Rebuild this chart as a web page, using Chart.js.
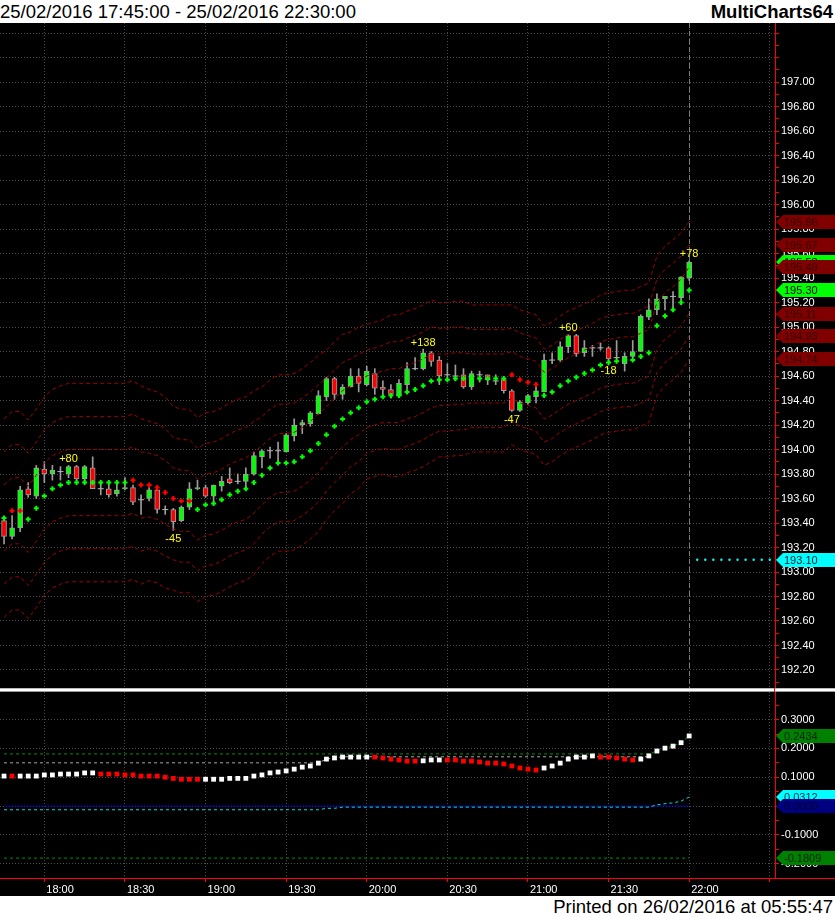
<!DOCTYPE html>
<html>
<head>
<meta charset="utf-8">
<script src="https://cdn.jsdelivr.net/npm/chart.js@4.4.1/dist/chart.umd.min.js"></script>
<style>
html, body { margin: 0; padding: 0; background: #fff; }
body { width: 835px; height: 917px; overflow: hidden; font-family: "Liberation Sans", Arial, sans-serif; }
#hdr { position: relative; height: 23px; line-height: 23px; font-size: 18.5px; background: #fff; color: #000; white-space: nowrap; }
#hdr .l { position: absolute; left: 0; top: 0; }
#hdr .r { position: absolute; right: 2px; top: 0; font-weight: bold; }
#sep { position: relative; height: 4px; background: linear-gradient(#bcbcbc 0 1px, #ffffff 1px 3px, #9a9a9a 3px 4px); }
#sep i { position: absolute; left: 774px; top: 0; width: 1px; height: 4px; background: #ff0000; }
#ftr { height: 21px; line-height: 21px; font-size: 18.5px; background: #fff; color: #000; text-align: right; padding-right: 2px; white-space: nowrap; }
canvas { display: block; background: #000; }
</style>
</head>
<body>
<div id="hdr"><span class="l">25/02/2016 17:45:00 - 25/02/2016 22:30:00</span><span class="r">MultiCharts64</span></div>
<canvas id="price" width="835" height="665"></canvas>
<div id="sep"><i></i></div>
<canvas id="osc" width="835" height="204"></canvas>
<div id="ftr">Printed on 26/02/2016 at 05:55:47</div>
<script>
// time axis: bar index -> label (3 minute bars, bar 0 = 17:45)
const timeBars = [5, 15, 25, 35, 45, 55, 65, 75, 85, 95];
const timeLabels = ['18:00', '18:30', '19:00', '19:30', '20:00', '20:30', '21:00', '21:30', '22:00', ''];
const priceLabels = ['197.00', '196.80', '196.60', '196.40', '196.20', '196.00', '195.80', '195.60', '195.40', '195.20',
  '195.00', '194.80', '194.60', '194.40', '194.20', '194.00', '193.80', '193.60', '193.40', '193.20',
  '193.00', '192.80', '192.60', '192.40', '192.20'];
const oscLabels = ['0.3000', '0.2000', '0.1000', '0.0000', '-0.1000', '-0.2000'];

const opens = [193.42,193.29,193.36,193.68,193.62,193.84,193.80,193.82,193.80,193.86,
  193.76,193.85,193.68,193.68,193.64,193.68,193.69,193.59,193.60,193.67,
  193.51,193.51,193.42,193.53,193.68,193.69,193.62,193.70,193.76,193.74,
  193.74,193.80,193.94,193.99,193.99,193.98,194.11,194.20,194.21,194.29,
  194.43,194.58,194.45,194.51,194.60,194.53,194.62,194.51,194.49,194.44,
  194.53,194.66,194.66,194.79,194.73,194.61,194.60,194.61,194.51,194.61,
  194.61,194.56,194.57,194.48,194.32,194.38,194.43,194.47,194.73,194.73,
  194.84,194.93,194.79,194.83,194.83,194.83,194.75,194.70,194.76,194.80,
  195.08,195.14,195.23,195.25,195.24,195.40];
const highs = [193.45,193.46,193.70,193.73,193.87,193.90,193.87,193.86,193.87,193.87,
  193.87,193.94,193.73,193.71,193.73,193.77,193.71,193.63,193.69,193.68,
  193.54,193.52,193.54,193.73,193.75,193.71,193.71,193.78,193.85,193.80,
  193.85,193.98,194.00,194.02,194.06,194.13,194.25,194.24,194.31,194.48,
  194.59,194.59,194.53,194.66,194.66,194.68,194.66,194.56,194.53,194.57,
  194.71,194.75,194.82,194.80,194.76,194.70,194.69,194.66,194.64,194.64,
  194.61,194.61,194.58,194.49,194.40,194.45,194.51,194.78,194.79,194.88,
  194.94,194.94,194.89,194.85,194.87,194.84,194.89,194.79,194.89,195.10,
  195.23,195.27,195.25,195.29,195.41,195.54];
const lows = [193.23,193.27,193.33,193.61,193.60,193.73,193.75,193.75,193.77,193.74,
  193.73,193.68,193.63,193.61,193.62,193.67,193.55,193.47,193.58,193.48,
  193.47,193.34,193.41,193.51,193.67,193.61,193.56,193.66,193.72,193.72,
  193.68,193.79,193.85,193.93,193.89,193.98,194.07,194.13,194.19,194.29,
  194.40,194.41,194.41,194.51,194.47,194.52,194.45,194.43,194.42,194.43,
  194.49,194.65,194.65,194.68,194.53,194.57,194.56,194.50,194.49,194.55,
  194.53,194.53,194.46,194.31,194.31,194.37,194.38,194.47,194.70,194.72,
  194.79,194.76,194.76,194.76,194.81,194.71,194.72,194.64,194.75,194.80,
  195.06,195.10,195.14,195.14,195.22,195.38];
const closes = [193.29,193.36,193.67,193.63,193.85,193.80,193.83,193.82,193.86,193.76,
  193.86,193.68,193.68,193.63,193.67,193.69,193.57,193.59,193.67,193.51,
  193.51,193.41,193.53,193.68,193.69,193.62,193.71,193.74,193.73,193.74,
  193.80,193.95,193.99,193.99,193.99,194.12,194.20,194.22,194.30,194.44,
  194.58,194.45,194.51,194.60,194.54,194.64,194.50,194.49,194.45,194.54,
  194.66,194.66,194.79,194.72,194.60,194.61,194.60,194.51,194.62,194.61,
  194.57,194.56,194.48,194.32,194.39,194.44,194.48,194.73,194.73,194.84,
  194.93,194.78,194.83,194.83,194.83,194.74,194.75,194.76,194.80,195.09,
  195.14,195.23,195.25,195.25,195.41,195.53];

// trailing dots (centre of the bands) and their direction, 1 = green, -1 = red
const stopLine = [193.44,193.50,193.50,193.43,193.52,193.62,193.68,193.71,193.73,193.73,
  193.73,193.73,193.73,193.73,193.73,193.73,193.75,193.71,193.71,193.69,
  193.65,193.60,193.58,193.58,193.51,193.55,193.56,193.59,193.63,193.66,
  193.68,193.73,193.79,193.85,193.89,193.89,193.90,193.94,193.99,194.05,
  194.12,194.19,194.25,194.30,194.34,194.39,194.41,194.43,194.44,194.44,
  194.47,194.49,194.52,194.56,194.57,194.57,194.58,194.58,194.58,194.58,
  194.58,194.58,194.58,194.61,194.57,194.55,194.53,194.44,194.47,194.52,
  194.56,194.59,194.62,194.65,194.69,194.71,194.72,194.73,194.73,194.76,
  194.79,195.01,195.09,195.14,195.20,195.30];
const stopDir = [1,-1,-1,1,1,1,1,1,1,1, 1,1,1,1,1,1,-1,-1,-1,-1, -1,-1,-1,-1,1,1,1,1,1,1,
  1,1,1,1,1,1,1,1,1,1, 1,1,1,1,1,1,1,1,1,1, 1,1,1,1,1,1,1,1,1,1,
  1,1,1,-1,-1,-1,-1,1,1,1, 1,1,1,1,1,1,1,1,1,1, 1,1,1,1,1,1];

const band3Up = [194.25,194.31,194.31,194.24,194.33,194.43,194.49,194.52,194.54,194.54,
  194.54,194.54,194.54,194.54,194.54,194.54,194.56,194.52,194.49,194.47,
  194.43,194.35,194.33,194.33,194.26,194.30,194.31,194.34,194.38,194.41,
  194.43,194.48,194.51,194.57,194.61,194.61,194.62,194.66,194.71,194.77,
  194.81,194.88,194.94,194.96,195.00,195.02,195.04,195.06,195.10,195.10,
  195.13,195.15,195.18,195.22,195.20,195.20,195.21,195.21,195.18,195.18,
  195.18,195.18,195.18,195.18,195.14,195.12,195.10,195.01,195.04,195.09,
  195.13,195.16,195.19,195.22,195.26,195.28,195.29,195.30,195.30,195.33,
  195.36,195.58,195.66,195.71,195.77,195.86];
const band2Up = [193.98,194.04,194.04,193.97,194.06,194.16,194.22,194.25,194.27,194.27,
  194.27,194.27,194.27,194.27,194.27,194.27,194.29,194.25,194.23,194.21,
  194.17,194.10,194.08,194.08,194.01,194.05,194.06,194.09,194.13,194.16,
  194.18,194.23,194.27,194.33,194.37,194.37,194.38,194.42,194.47,194.53,
  194.58,194.65,194.71,194.74,194.78,194.81,194.83,194.85,194.88,194.88,
  194.91,194.93,194.96,195.00,194.99,194.99,195.00,195.00,194.98,194.98,
  194.98,194.98,194.98,194.99,194.95,194.93,194.91,194.82,194.85,194.90,
  194.94,194.97,195.00,195.03,195.07,195.09,195.10,195.11,195.11,195.14,
  195.17,195.39,195.47,195.52,195.58,195.67];
const band1Up = [193.71,193.77,193.77,193.70,193.79,193.89,193.95,193.98,194.00,194.00,
  194.00,194.00,194.00,194.00,194.00,194.00,194.02,193.98,193.97,193.95,
  193.91,193.85,193.83,193.83,193.76,193.80,193.81,193.84,193.88,193.91,
  193.93,193.98,194.03,194.09,194.13,194.13,194.14,194.18,194.23,194.29,
  194.35,194.42,194.48,194.52,194.56,194.60,194.62,194.64,194.66,194.66,
  194.69,194.71,194.74,194.78,194.78,194.78,194.79,194.79,194.78,194.78,
  194.78,194.78,194.78,194.80,194.76,194.74,194.72,194.63,194.66,194.71,
  194.75,194.78,194.81,194.84,194.88,194.90,194.91,194.92,194.92,194.95,
  194.98,195.20,195.28,195.33,195.39,195.49];
const band1Dn = [193.17,193.23,193.23,193.16,193.25,193.35,193.41,193.44,193.46,193.46,
  193.46,193.46,193.46,193.46,193.46,193.46,193.48,193.44,193.45,193.43,
  193.39,193.35,193.33,193.33,193.26,193.30,193.31,193.34,193.38,193.41,
  193.43,193.48,193.55,193.61,193.65,193.65,193.66,193.70,193.75,193.81,
  193.89,193.96,194.02,194.08,194.12,194.18,194.20,194.22,194.22,194.22,
  194.25,194.27,194.30,194.34,194.36,194.36,194.37,194.37,194.38,194.38,
  194.38,194.38,194.38,194.42,194.38,194.36,194.34,194.25,194.28,194.33,
  194.37,194.40,194.43,194.46,194.50,194.52,194.53,194.54,194.54,194.57,
  194.60,194.82,194.90,194.95,195.01,195.11];
const band2Dn = [192.90,192.96,192.96,192.89,192.98,193.08,193.14,193.17,193.19,193.19,
  193.19,193.19,193.19,193.19,193.19,193.19,193.21,193.17,193.19,193.17,
  193.13,193.10,193.08,193.08,193.01,193.05,193.06,193.09,193.13,193.16,
  193.18,193.23,193.31,193.37,193.41,193.41,193.42,193.46,193.51,193.57,
  193.66,193.73,193.79,193.86,193.90,193.97,193.99,194.01,194.00,194.00,
  194.03,194.05,194.08,194.12,194.15,194.15,194.16,194.16,194.18,194.18,
  194.18,194.18,194.18,194.23,194.19,194.17,194.15,194.06,194.09,194.14,
  194.18,194.21,194.24,194.27,194.31,194.33,194.34,194.35,194.35,194.38,
  194.41,194.63,194.71,194.76,194.82,194.93];
const band3Dn = [192.63,192.69,192.69,192.62,192.71,192.81,192.87,192.90,192.92,192.92,
  192.92,192.92,192.92,192.92,192.92,192.92,192.94,192.90,192.93,192.91,
  192.87,192.85,192.83,192.83,192.76,192.80,192.81,192.84,192.88,192.91,
  192.93,192.98,193.07,193.13,193.17,193.17,193.18,193.22,193.27,193.33,
  193.43,193.50,193.56,193.64,193.68,193.76,193.78,193.80,193.78,193.78,
  193.81,193.83,193.86,193.90,193.94,193.94,193.95,193.95,193.98,193.98,
  193.98,193.98,193.98,194.04,194.00,193.98,193.96,193.87,193.90,193.95,
  193.99,194.02,194.05,194.08,194.12,194.14,194.15,194.16,194.16,194.19,
  194.22,194.44,194.52,194.57,194.63,194.74];

const swingBars = [8, 21, 52, 63, 70, 75, 85];
const swingTexts = ['+80', '-45', '+138', '-47', '+60', '-18', '+78'];

const projBars = [86, 87, 88, 89, 90, 91, 92, 93, 94, 95];
const projLevel = 193.10;

// lower panel
const osc = [0.104,0.104,0.104,0.104,0.104,0.108,0.108,0.111,0.111,0.111,
  0.115,0.115,0.111,0.111,0.111,0.108,0.108,0.104,0.104,0.104,
  0.100,0.096,0.093,0.093,0.093,0.093,0.093,0.093,0.096,0.096,
  0.096,0.104,0.108,0.115,0.118,0.122,0.128,0.135,0.139,0.149,
  0.163,0.167,0.170,0.170,0.170,0.170,0.170,0.167,0.163,0.160,
  0.156,0.156,0.157,0.160,0.160,0.160,0.160,0.156,0.156,0.153,
  0.149,0.149,0.146,0.139,0.132,0.128,0.125,0.132,0.139,0.149,
  0.163,0.170,0.170,0.174,0.170,0.170,0.167,0.163,0.160,0.163,
  0.174,0.191,0.201,0.208,0.220,0.2434];
const oscDir = [1,-1,1,1,1,1,1,1,1,1, 1,1,-1,-1,-1,-1,-1,-1,-1,-1, -1,-1,-1,-1,-1,1,1,1,1,1,
  1,1,1,1,1,1,1,1,1,1, 1,1,1,1,1,1,-1,-1,-1,-1, -1,-1,1,1,1,-1,-1,-1,-1,-1,
  -1,-1,-1,-1,-1,-1,-1,1,1,1, 1,1,1,1,-1,-1,-1,-1,-1,1, 1,1,1,1,1,1];
const maxBars = [0, 39, 40, 41, 42, 80];
const maxVals = [0.150, 0.150, 0.163, 0.167, 0.171, 0.171];
const upperBars = [0, 80, 81, 82, 83, 84, 85];
const upperVals = [0.1809, 0.1809, 0.191, 0.201, 0.208, 0.220, 0.2434];
const lowerBars = [0, 85];
const lowerVals = [-0.1809, -0.1809];
const cyanBars = [0, 39, 40, 41, 42, 80, 81, 82, 83, 84, 85];
const cyanVals = [-0.013, -0.013, -0.008, -0.008, -0.004, -0.004, 0.004, 0.008, 0.011, 0.017, 0.0312];
const zeroBars = [0, 85];
const zeroVals = [0, 0];

Chart.defaults.font.family = '"Liberation Sans", Arial, sans-serif';
Chart.defaults.font.size = 11;

const GRID = '#4a4a4a';
const FONT = '11px "Liberation Sans", Arial, sans-serif';

function pts(xs, ys) { return xs.map((x, i) => ({ x: x, y: ys[i] })); }
function series(ys) { return ys.map((y, i) => ({ x: i, y: y })); }

// keep the plot area exactly where the layout puts it
function noPad(axis) {
  axis.paddingTop = 0; axis.paddingBottom = 0;
  axis.paddingLeft = 0; axis.paddingRight = 0;
}

function drawTag(chart, value, text, bg, fg) {
  const ctx = chart.ctx;
  const y = Math.round(chart.scales.y.getPixelForValue(value));
  const x0 = chart.chartArea.right + 1, x1 = x0 + 7, x2 = chart.width, h = 7;
  ctx.save();
  ctx.fillStyle = bg;
  ctx.beginPath();
  ctx.moveTo(x0, y);
  ctx.lineTo(x1, y - h);
  ctx.lineTo(x2, y - h);
  ctx.lineTo(x2, y + h);
  ctx.lineTo(x1, y + h);
  ctx.closePath();
  ctx.fill();
  ctx.fillStyle = fg;
  ctx.font = FONT;
  ctx.textAlign = 'left';
  ctx.textBaseline = 'middle';
  ctx.fillText(text, x0 + 8, y + 1);
  ctx.restore();
}

function timeAxis(withLabels) {
  return {
    type: 'linear', min: -0.5, max: 95.65, offset: false,
    afterBuildTicks: axis => { axis.ticks = timeBars.map(v => ({ value: v })); },
    afterFit: axis => { axis.height = withLabels ? 18 : 0; noPad(axis); },
    grid: { color: GRID, offset: false, drawTicks: withLabels, tickColor: '#ff0000', tickLength: 4, tickBorderDash: [] },
    border: { display: withLabels, color: '#ff0000', width: 1, dash: [1, 2] },
    ticks: {
      display: withLabels, color: '#ffffff', padding: 1, autoSkip: false, maxRotation: 0,
      align: 'start', labelOffset: 2,
      callback: v => { const k = timeBars.indexOf(v); return k >= 0 ? timeLabels[k] : ''; }
    }
  };
}

// ---- candles ----
const wickData = highs.map((h, i) => ({ x: i, y: [lows[i], h] }));
const bodyData = [], bodyColors = [], dojiData = [];
opens.forEach((o, i) => {
  const c = closes[i];
  if (o === c) {
    dojiData.push({ x: i, y: o });
  } else {
    bodyData.push({ x: i, y: [o, c] });
    bodyColors.push(c > o ? '#00ff00' : '#ff0000');
  }
});

const bandStyle = { type: 'line', borderColor: '#990000', borderWidth: 1, borderDash: [4, 3], pointRadius: 0, order: 2 };

const priceExtras = {
  id: 'priceExtras',
  beforeDatasetsDraw(chart) {
    const { ctx, chartArea, scales: { x } } = chart;
    const px = Math.round(x.getPixelForValue(closes.length - 1)) + 0.5;
    ctx.save();
    ctx.strokeStyle = '#7c7c7c';
    ctx.lineWidth = 1;
    ctx.setLineDash([5, 3]);
    ctx.beginPath();
    ctx.moveTo(px, chartArea.top);
    ctx.lineTo(px, chartArea.bottom);
    ctx.stroke();
    ctx.restore();
  },
  afterDatasetsDraw(chart) {
    const { ctx, scales: { x, y } } = chart;
    ctx.save();
    ctx.font = FONT;
    ctx.fillStyle = '#ffff00';
    ctx.textAlign = 'center';
    ctx.textBaseline = 'alphabetic';
    swingBars.forEach((b, k) => {
      const t = swingTexts[k];
      const px = x.getPixelForValue(b);
      const py = t[0] === '+' ? y.getPixelForValue(highs[b]) - 3.5 : y.getPixelForValue(lows[b]) + 11.5;
      ctx.fillText(t, px, py);
    });
    ctx.restore();
  },
  afterDraw(chart) {
    const last = closes.length - 1;
    const maroon = '#800000', maroonText = '#330000';
    drawTag(chart, band3Up[last], band3Up[last].toFixed(2), maroon, maroonText);
    drawTag(chart, band2Up[last], band2Up[last].toFixed(2), maroon, maroonText);
    drawTag(chart, closes[last], closes[last].toFixed(2), '#00ff00', '#000000');
    drawTag(chart, band1Up[last], band1Up[last].toFixed(2), maroon, maroonText);
    drawTag(chart, stopLine[last], stopLine[last].toFixed(2), '#00ff00', '#000000');
    drawTag(chart, band1Dn[last], band1Dn[last].toFixed(2), maroon, maroonText);
    drawTag(chart, band2Dn[last], band2Dn[last].toFixed(2), maroon, maroonText);
    drawTag(chart, band3Dn[last], band3Dn[last].toFixed(2), maroon, maroonText);
    drawTag(chart, projLevel, projLevel.toFixed(2), '#00ffff', '#002030');
  }
};

new Chart(document.getElementById('price'), {
  type: 'bar',
  data: {
    datasets: [
      { type: 'bar', data: wickData, backgroundColor: '#9c9c9c', borderWidth: 0, barThickness: 1, grouped: false, order: 6 },
      { type: 'bar', data: bodyData, backgroundColor: bodyColors, borderColor: '#9c9c9c', borderWidth: 1,
        borderSkipped: false, barThickness: 5, grouped: false, order: 5 },
      { type: 'line', data: dojiData, showLine: false, pointStyle: 'line', pointRadius: 3,
        pointBorderColor: '#b4b4b4', pointBorderWidth: 1, order: 4 },
      { type: 'line', data: series(stopLine), showLine: false, pointStyle: 'cross', pointRadius: 2.5,
        pointBorderWidth: 2, pointBorderColor: stopDir.map(d => d > 0 ? '#00ff00' : '#ff0000'), order: 3 },
      Object.assign({ data: series(band3Up) }, bandStyle),
      Object.assign({ data: series(band2Up) }, bandStyle),
      Object.assign({ data: series(band1Up) }, bandStyle),
      Object.assign({ data: series(band1Dn) }, bandStyle),
      Object.assign({ data: series(band2Dn) }, bandStyle),
      Object.assign({ data: series(band3Dn) }, bandStyle),
      { type: 'line', data: projBars.map(b => ({ x: b, y: projLevel })), showLine: false, pointStyle: 'circle',
        pointRadius: 1.2, pointBackgroundColor: '#00ffff', pointBorderWidth: 0, order: 1 }
    ]
  },
  options: {
    responsive: false, devicePixelRatio: 1, animation: false, events: [],
    layout: { padding: 0, autoPadding: false },
    plugins: { legend: { display: false }, tooltip: { enabled: false } },
    scales: {
      x: timeAxis(false),
      y: {
        type: 'linear', position: 'right', min: 192.053, max: 197.482,
        afterBuildTicks: axis => {
          const t = [];
          for (let k = 1921; k <= 1974; k++) t.push({ value: k / 10, major: k % 2 === 0 });
          axis.ticks = t;
        },
        afterFit: axis => { axis.width = 60; noPad(axis); },
        grid: { color: c => (c.tick && c.tick.major) ? GRID : 'rgba(0,0,0,0)', tickColor: '#ff0000', tickLength: 4, tickBorderDash: [] },
        border: { display: true, color: '#ff0000', width: 1, dash: [1, 2] },
        ticks: {
          color: '#ffffff', padding: 2, autoSkip: false,
          callback: (v, i, t) => { const s = v.toFixed(2); return t[i].major && priceLabels.includes(s) ? s : ''; }
        }
      }
    }
  },
  plugins: [priceExtras]
});

// ---- oscillator panel ----
const oscExtras = {
  id: 'oscExtras',
  afterDraw(chart) {
    const { ctx, chartArea } = chart;
    ctx.save();
    ctx.strokeStyle = '#ff0000';
    ctx.lineWidth = 1;
    ctx.beginPath();
    ctx.moveTo(chartArea.right, Math.round(chartArea.bottom) + 0.5);
    ctx.lineTo(chart.width, Math.round(chartArea.bottom) + 0.5);
    ctx.stroke();
    ctx.restore();
    const lastUp = upperVals[upperVals.length - 1];
    const lastCyan = cyanVals[cyanVals.length - 1];
    const lastZero = zeroVals[zeroVals.length - 1];
    const lastLow = lowerVals[lowerVals.length - 1];
    drawTag(chart, lastUp, lastUp.toFixed(4), '#008000', '#002400');
    drawTag(chart, lastCyan, lastCyan.toFixed(4), '#00ffff', '#003040');
    drawTag(chart, lastZero, lastZero.toFixed(4), '#000080', '#000030');
    drawTag(chart, lastLow, lastLow.toFixed(4), '#008000', '#002400');
  }
};

new Chart(document.getElementById('osc'), {
  type: 'line',
  data: {
    datasets: [
      { data: pts(zeroBars, zeroVals), borderColor: '#0000a8', borderWidth: 1, pointRadius: 0, order: 6 },
      { data: pts(cyanBars, cyanVals), borderColor: '#00e4e4', borderWidth: 1, borderDash: [3, 3], pointRadius: 0, order: 5 },
      { data: pts(lowerBars, lowerVals), borderColor: '#009000', borderWidth: 1, borderDash: [3, 3], pointRadius: 0, order: 4 },
      { data: pts(maxBars, maxVals), borderColor: '#a8a8a8', borderWidth: 1, borderDash: [3, 3], pointRadius: 0, order: 3 },
      { data: pts(upperBars, upperVals), borderColor: '#009000', borderWidth: 1, borderDash: [3, 3], pointRadius: 0, order: 2 },
      { data: series(osc), showLine: false, pointStyle: 'rect', pointRadius: 3.4, pointBorderWidth: 0,
        pointBackgroundColor: oscDir.map(d => d > 0 ? '#ffffff' : '#ff0000'), order: 1 }
    ]
  },
  options: {
    responsive: false, devicePixelRatio: 1, animation: false, events: [],
    layout: { padding: 0, autoPadding: false },
    plugins: { legend: { display: false }, tooltip: { enabled: false } },
    scales: {
      x: timeAxis(true),
      y: {
        type: 'linear', position: 'right', min: -0.25, max: 0.396,
        afterBuildTicks: axis => {
          const t = [];
          for (let k = -5; k <= 7; k++) t.push({ value: k / 20, major: k % 2 === 0 });
          axis.ticks = t;
        },
        afterFit: axis => { axis.width = 60; noPad(axis); },
        grid: { color: c => (c.tick && c.tick.major) ? GRID : 'rgba(0,0,0,0)', tickColor: '#ff0000', tickLength: 4, tickBorderDash: [] },
        border: { display: true, color: '#ff0000', width: 1, dash: [1, 2] },
        ticks: {
          color: '#ffffff', padding: 2, autoSkip: false,
          callback: (v, i, t) => { const s = (Math.abs(v) < 1e-9 ? 0 : v).toFixed(4); return t[i].major && oscLabels.includes(s) ? s : ''; }
        }
      }
    }
  },
  plugins: [oscExtras]
});
</script>
</body>
</html>
